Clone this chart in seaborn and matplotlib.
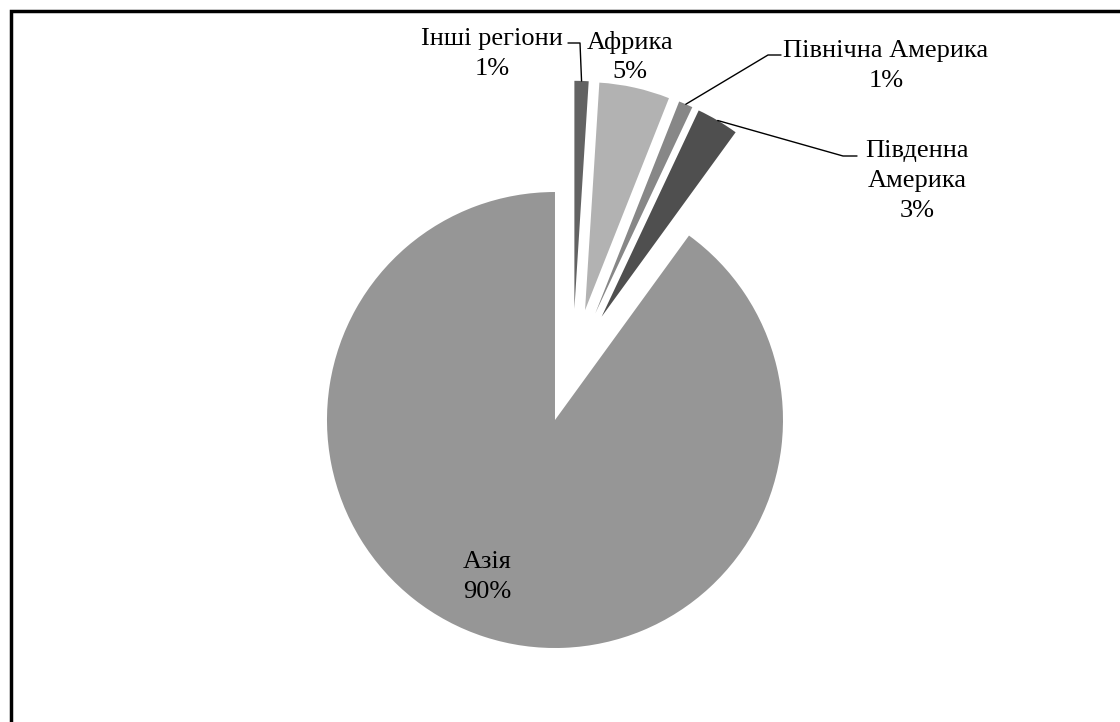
import numpy as np
import matplotlib
matplotlib.use("Agg")
import matplotlib.pyplot as plt
from matplotlib.patches import Rectangle
import seaborn as sns

regions = ["Інші регіони", "Африка", "Північна Америка", "Південна\nАмерика", "Азія"]
shares = [1, 5, 1, 3, 90]
colors = ["#636363", "#b2b2b2", "#878787", "#4f4f4f", "#969696"]

sns.set_theme(style="white")
plt.rcParams['font.family'] = ['Liberation Serif', 'DejaVu Serif']

fig = plt.figure(figsize=(11.2, 7.22), dpi=100)
ax = fig.add_axes([0, 0, 1, 1])

wedges, _ = ax.pie(shares, colors=colors, startangle=90, counterclock=False,
                   explode=[0.25] * len(shares), radius=1,
                   wedgeprops=dict(linewidth=0))

# 228 px per data unit, pie centre at pixel (572.6, 365.8)
s = 228.0
cx, cy = 572.6, 365.8
ax.set_xlim(-cx / s, (1120 - cx) / s)
ax.set_ylim(-(722 - cy) / s, cy / s)
ax.set_aspect('auto')
ax.axis('off')

def px(x, y):
    return ((x - cx) / s, (cy - y) / s)

def outer_mid(w):
    a = np.deg2rad((w.theta1 + w.theta2) / 2)
    return (w.center[0] + w.r * np.cos(a), w.center[1] + w.r * np.sin(a))

fs = 19
# labels: (text position in px, leader elbow, leader end)
label_pos = [(492, 54), (630, 57), (886, 66), (917, 181), (487, 577)]
leaders = {0: [(580, 43), (568, 43)],
           2: [(768, 55), (781, 55)],
           3: [(843, 156), (857, 156)]}

for i, (name, val) in enumerate(zip(regions, shares)):
    tx, ty = px(*label_pos[i])
    ax.text(tx, ty, f"{name}\n{val}%", ha='center', va='center', fontsize=fs,
            linespacing=1.45, color='black')
    if i in leaders:
        start = outer_mid(wedges[i])
        pts = [start] + [px(*p) for p in leaders[i]]
        ax.plot([p[0] for p in pts], [p[1] for p in pts], color='black', lw=1)

# outer frame (only top and left edges fall inside the picture)
fig.add_artist(Rectangle((10.5 / 1120, -0.1), 1.2, 1 - 10.5 / 722 + 0.1,
                         transform=fig.transFigure, fill=False,
                         edgecolor='black', linewidth=2.5, clip_on=False))

fig.savefig("out.png", dpi=100, facecolor='white')
